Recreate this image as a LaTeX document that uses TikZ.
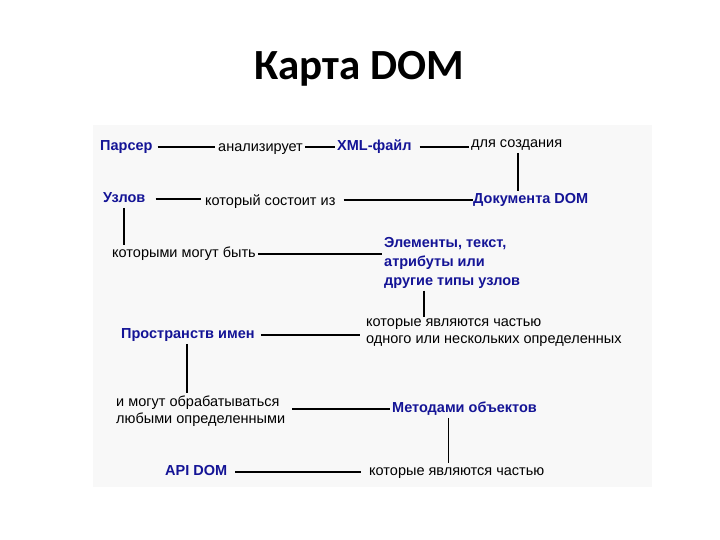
\documentclass[tikz,border=0pt]{standalone}
\usepackage{fontspec}
\setmainfont{Liberation Sans}
\newfontfamily\titlefont{Carlito}
\usetikzlibrary{calc}
\definecolor{navy}{RGB}{20,20,150}
\definecolor{panel}{RGB}{248,248,248}
\tikzset{
  plain/.style={font=\fontsize{14.5}{17}\selectfont, text=black, inner sep=2pt, anchor=west, align=left},
  key/.style={font=\fontsize{14.5}{19}\selectfont\bfseries, text=navy, inner sep=2pt, anchor=west, align=left},
  one/.style={text height=10.5pt, text depth=3pt},
  link/.style={line width=1.8pt, black}
}
\begin{document}
\begin{tikzpicture}[x=1pt,y=-1pt]
\useasboundingbox (0,0) rectangle (720,540);
\fill[panel] (93,125) rectangle (652,487);
\node[font=\titlefont\fontsize{43}{48}\selectfont\bfseries] (title) at (359,69) {Карта DOM};

\node[key, one] (parser) at (98,147) {Парсер};
\node[plain, one] (analiz) at (216,148) {анализирует};
\node[key, one] (xml) at (335,147) {XML-файл};
\node[plain, one] (dlya) at (469,144) {для создания};
\node[key, one] (doc) at (471,200) {Документа DOM};
\node[key, one] (uzlov) at (101,199) {Узлов};
\node[plain, one] (sost) at (203,202) {который состоит из};
\node[plain, one] (mogut) at (110,254) {которыми могут быть};
\node[key, anchor=north west] (elem) at (382,235) {Элементы, текст,\\атрибуты или\\другие типы узлов};
\node[plain] (kot1) at (364,333) {которые являются частью\\одного или нескольких определенных};
\node[key, one] (prost) at (119,335) {Пространств имен};
\node[plain] (obrab) at (114,411) {и могут обрабатываться\\любыми определенными};
\node[key, one] (metod) at (390,409) {Методами объектов};
\node[key, one] (api) at (163,472) {API DOM};
\node[plain, one] (kot3) at (367,472) {которые являются частью};

\draw[link] ([xshift=3pt]parser.east) -- ([xshift=-1pt]parser.east -| analiz.west);
\draw[link] (xml.west -| analiz.east) -- (xml.west);
\draw[link] ([xshift=6pt]xml.east) -- (xml.east -| dlya.west);
\draw[link] ([xshift=1pt]dlya.south) -- ([xshift=1pt]dlya.south |- doc.north);
\draw[link] ([xshift=8pt]uzlov.east) -- ([xshift=-2pt]uzlov.east -| sost.west);
\draw[link] ([xshift=6pt]doc.west -| sost.east) -- ([xshift=2pt]doc.west);
\draw[link] (uzlov.south) -- (uzlov.south |- mogut.north);
\draw[link] (mogut.east) -- (mogut.east -| elem.west);
\draw[link] ([xshift=42pt]elem.south west) -- ([xshift=42pt]elem.south west |- kot1.north);
\draw[link] ([xshift=4pt]prost.east) -- ([xshift=-4pt]prost.east -| kot1.west);
\draw[link] ([xshift=-1pt]prost.south) -- ([xshift=-1pt]prost.south |- obrab.north);
\draw[link] ([xshift=5pt]metod.west -| obrab.east) -- (metod.west);
\draw[link] ([xshift=-16pt]metod.south) -- ([xshift=-16pt]metod.south |- kot3.north);
\draw[link] ([xshift=6pt]api.east) -- ([xshift=-6pt]api.east -| kot3.west);
\end{tikzpicture}
\end{document}
